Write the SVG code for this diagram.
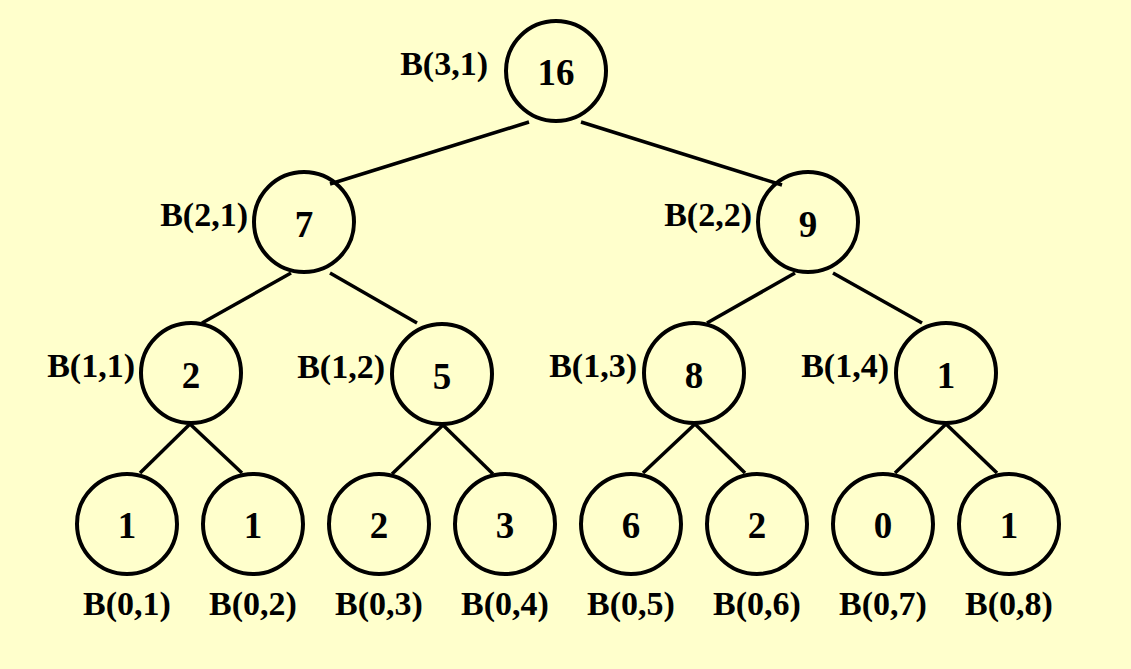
<svg xmlns="http://www.w3.org/2000/svg" width="1131" height="669" viewBox="0 0 1131 669">
<style>
.n circle{fill:none;stroke:#000;stroke-width:4}
.v{font-family:"Liberation Serif","Times New Roman",serif;font-weight:bold;font-size:37px;text-anchor:middle;fill:#000}
.l{font-family:"Liberation Serif","Times New Roman",serif;font-weight:bold;font-size:34px;fill:#000}
.s{text-anchor:end}
.b{text-anchor:middle}
#edges line{stroke:#000;stroke-width:3.5}
</style>
<rect width="1131" height="669" fill="#FFFFCC"/>
<g id="edges">
<line x1="529" y1="122" x2="330" y2="184"/>
<line x1="581" y1="122" x2="782" y2="185"/>
<line x1="291" y1="273" x2="202" y2="323"/>
<line x1="330" y1="273" x2="417" y2="323"/>
<line x1="795" y1="273" x2="707" y2="323"/>
<line x1="833" y1="273" x2="922" y2="323"/>
<line x1="190" y1="424" x2="140" y2="473"/>
<line x1="190" y1="424" x2="242" y2="473"/>
<line x1="443" y1="425" x2="392" y2="474"/>
<line x1="443" y1="425" x2="493" y2="474"/>
<line x1="695" y1="424" x2="643" y2="473"/>
<line x1="695" y1="424" x2="745" y2="473"/>
<line x1="946" y1="424" x2="895" y2="473"/>
<line x1="946" y1="424" x2="997" y2="473"/>
</g>
<g id="n31" class="n"><circle cx="556" cy="71" r="50"/><text class="v" x="556" y="85">16</text><text class="l s" x="488" y="75">B(3,1)</text></g>
<g id="n21" class="n"><circle cx="304" cy="222" r="50"/><text class="v" x="304" y="237">7</text><text class="l s" x="248" y="226">B(2,1)</text></g>
<g id="n22" class="n"><circle cx="808" cy="222" r="50"/><text class="v" x="808" y="237">9</text><text class="l s" x="752" y="226">B(2,2)</text></g>
<g id="n11" class="n"><circle cx="191" cy="373" r="50"/><text class="v" x="191" y="388">2</text><text class="l s" x="135" y="377">B(1,1)</text></g>
<g id="n12" class="n"><circle cx="442" cy="374" r="50"/><text class="v" x="442" y="389">5</text><text class="l s" x="385" y="378">B(1,2)</text></g>
<g id="n13" class="n"><circle cx="694" cy="373" r="50"/><text class="v" x="694" y="388">8</text><text class="l s" x="637" y="377">B(1,3)</text></g>
<g id="n14" class="n"><circle cx="946" cy="373" r="50"/><text class="v" x="946" y="388">1</text><text class="l s" x="889" y="377">B(1,4)</text></g>
<g id="n01" class="n"><circle cx="127" cy="524" r="50"/><text class="v" x="127" y="538">1</text><text class="l b" x="127" y="615">B(0,1)</text></g>
<g id="n02" class="n"><circle cx="253" cy="524" r="50"/><text class="v" x="253" y="538">1</text><text class="l b" x="253" y="615">B(0,2)</text></g>
<g id="n03" class="n"><circle cx="379" cy="524" r="50"/><text class="v" x="379" y="538">2</text><text class="l b" x="379" y="615">B(0,3)</text></g>
<g id="n04" class="n"><circle cx="505" cy="524" r="50"/><text class="v" x="505" y="538">3</text><text class="l b" x="505" y="615">B(0,4)</text></g>
<g id="n05" class="n"><circle cx="631" cy="524" r="50"/><text class="v" x="631" y="538">6</text><text class="l b" x="631" y="615">B(0,5)</text></g>
<g id="n06" class="n"><circle cx="757" cy="524" r="50"/><text class="v" x="757" y="538">2</text><text class="l b" x="757" y="615">B(0,6)</text></g>
<g id="n07" class="n"><circle cx="883" cy="524" r="50"/><text class="v" x="883" y="538">0</text><text class="l b" x="883" y="615">B(0,7)</text></g>
<g id="n08" class="n"><circle cx="1009" cy="524" r="50"/><text class="v" x="1009" y="538">1</text><text class="l b" x="1009" y="615">B(0,8)</text></g>
</svg>
